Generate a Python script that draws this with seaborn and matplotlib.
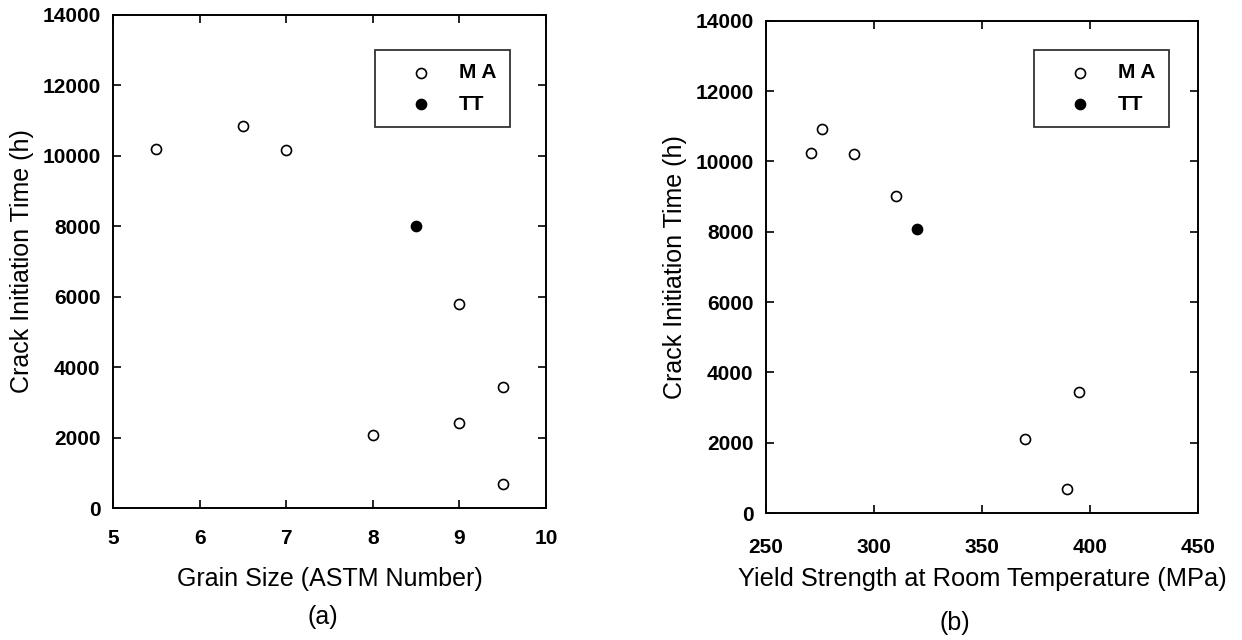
import matplotlib
matplotlib.use("Agg")
import matplotlib.pyplot as plt
import seaborn as sns
import pandas as pd

# Panel (a): grain size
grain_ma = [5.5, 6.5, 7.0, 9.0, 9.5, 8.0, 9.0, 9.5]
time_a_ma = [10200, 10850, 10170, 5800, 3440, 2080, 2420, 680]
grain_tt = [8.5]
time_a_tt = [8000]

# Panel (b): yield strength
ys_ma = [271, 276, 291, 310, 370, 395, 389.5]
time_b_ma = [10230, 10920, 10220, 9030, 2100, 3450, 690]
ys_tt = [320]
time_b_tt = [8070]

series_labels = ["M A", "TT"]
ylabel = "Crack Initiation Time (h)"
xlabel_a = "Grain Size (ASTM Number)"
xlabel_b = "Yield Strength at Room Temperature (MPa)"
yticks = [0, 2000, 4000, 6000, 8000, 10000, 12000, 14000]
xticks_a = [5, 6, 7, 8, 9, 10]
xticks_b = [250, 300, 350, 400, 450]

sns.set_theme(style="ticks")
plt.rcParams['font.family'] = ['Liberation Sans', 'DejaVu Sans']
plt.rcParams['text.color'] = 'black'
plt.rcParams['axes.labelcolor'] = 'black'

fig = plt.figure(figsize=(12.42, 6.4), dpi=100)
ax1 = fig.add_axes([0.091, 0.206, 0.3486, 0.771])
ax2 = fig.add_axes([0.6167, 0.1984, 0.3478, 0.769])

def panel(ax, xm, ym, xt, yt, xlabel, xticks, xlim, xpad, xlabfs, xlabpad,
          ylabpad, legpos):
    dm = pd.DataFrame({"x": xm, "y": ym})
    dt = pd.DataFrame({"x": xt, "y": yt})
    sns.scatterplot(data=dm, x="x", y="y", ax=ax, marker="o", s=52,
                    facecolor="white", edgecolor="black", linewidth=1.2,
                    label=series_labels[0], zorder=3)
    sns.scatterplot(data=dt, x="x", y="y", ax=ax, marker="o", s=52,
                    color="black", edgecolor="black", linewidth=1.2,
                    label=series_labels[1], zorder=3)
    ax.set_xlim(*xlim)
    ax.set_ylim(0, 14000)
    ax.set_xticks(xticks)
    ax.set_yticks(yticks)
    ax.tick_params(direction="in", top=True, right=True, length=6, width=1.2,
                   labelsize=15, colors="black")
    ax.tick_params(axis="y", pad=9)
    ax.tick_params(axis="x", pad=xpad)
    for lab in ax.get_xticklabels() + ax.get_yticklabels():
        lab.set_fontweight("bold")
    for sp in ax.spines.values():
        sp.set_linewidth(1.4)
        sp.set_color("black")
    ax.set_xlabel(xlabel, fontsize=xlabfs, labelpad=xlabpad, color="black")
    ax.set_ylabel(ylabel, fontsize=18, labelpad=ylabpad, color="black")
    leg = ax.legend(loc="upper right", bbox_to_anchor=legpos, frameon=True,
                    fancybox=False, edgecolor="black", fontsize=15,
                    handlelength=3.12, handletextpad=0.26, borderpad=0.65,
                    labelspacing=0.6, markerscale=1.0, borderaxespad=0)
    leg.get_frame().set_linewidth(1.3)
    for t in leg.get_texts():
        t.set_fontweight("bold")
        t.set_color("black")
    leg.legend_handles[1].set_facecolor("black")

panel(ax1, grain_ma, time_a_ma, grain_tt, time_a_tt, xlabel_a, xticks_a, (5, 10),
      15, 18, 13.5, 6, (0.917, 0.929))
panel(ax2, ys_ma, time_b_ma, ys_tt, time_b_tt, xlabel_b, xticks_b, (250, 450),
      18, 18.3, 7.5, 6, (0.933, 0.941))

fig.text(0.26, 0.036, "(a)", fontsize=18, ha="center", va="center", color="black")
fig.text(0.769, 0.027, "(b)", fontsize=18, ha="center", va="center", color="black")

fig.savefig("out.png", dpi=100, facecolor="white")
